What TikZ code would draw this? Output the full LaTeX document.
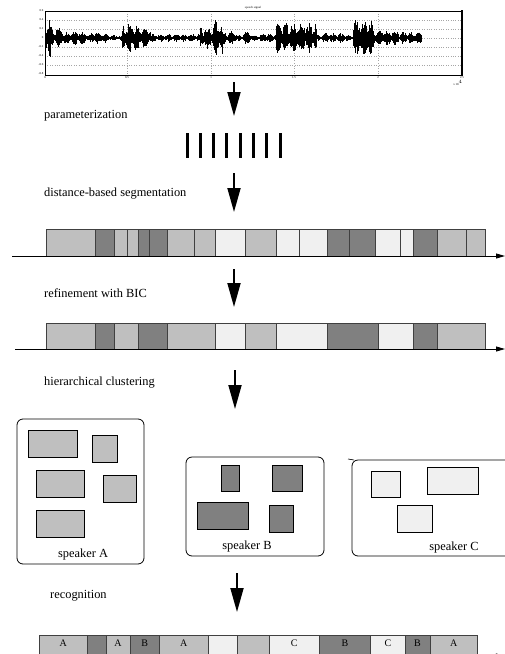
\documentclass[tikz,border=0pt]{standalone}
\usepackage{fontspec}
\setmainfont{Liberation Serif}
\usetikzlibrary{arrows.meta}

\definecolor{spkA}{gray}{0.75}
\definecolor{spkB}{gray}{0.5}
\definecolor{spkC}{gray}{0.94}

\tikzset{
  stage/.style={anchor=west, inner sep=0pt, font=\fontsize{12.4}{14}\selectfont},
  flow/.style={line width=1.8pt, -{Triangle[length=24pt,width=13pt]}},
  timeaxis/.style={line width=0.8pt, -{Triangle[length=9pt,width=5pt]}},
  seg/.style={draw=black!75, line width=0.7pt},
  model/.style={draw=black, line width=0.7pt},
  cluster/.style={draw=black, line width=0.8pt, rounded corners=6pt},
  ticklbl/.style={font=\fontsize{3}{3}\selectfont, inner sep=0.5pt},
  seglbl/.style={font=\fontsize{10}{10}\selectfont, inner sep=0pt},
}

\begin{document}
\begin{tikzpicture}[x=1pt, y=-1pt]
\useasboundingbox (0,0) rectangle (505,654);
\clip (0,0) rectangle (505,654);

% signal plot
\foreach \y in {20,29,38,47,56,65} \draw [gray!70, dotted, line width=0.4pt] (45,\y) -- (462,\y);
\foreach \x in {127,211,294,378} \draw [gray!70, dotted, line width=0.6pt] (\x,11) -- (\x,75);
\draw [line width=0.5pt] (45,11) rectangle (462,75);
\draw [line width=1.5pt] (462,10) -- (462,75);
\node [ticklbl] (sigTitle) at (253,8) {speech signal};
\foreach \y/\t in {11/0.6,20/0.4,29/0.2,38/0,47/-0.2,56/-0.4,65/-0.6,74/-0.8}
  \node [ticklbl, anchor=east] at (44,\y) {\t};
\foreach \x/\t in {45/0,127/0.5,211/1,294/1.5,378/2,462/2.5}
  \node [ticklbl, anchor=north] at (\x,76) {\t};
\node [ticklbl, anchor=north] (sigUnit) at (458,80) {x 10$^4$};

\pgfmathsetseed{11}
\draw [line width=0.8pt] (45,38) -- (421,38);
\foreach \a/\b/\h in {45/50/24, 50/62/11, 62/86/7, 86/90/3, 90/106/6, 106/122/3,
  122/136/15, 136/150/11, 150/200/4, 200/214/12, 214/222/18, 222/236/7, 236/243/3,
  243/251/7, 251/260/3, 260/276/5, 276/316/16, 316/322/3, 322/346/5, 346/353/3,
  353/373/19, 373/398/8, 398/421/6}
{
  \pgfmathsetmacro\nx{\a+0.5}
  \foreach \x in {\a,\nx,...,\b} {
    \pgfmathsetmacro\env{\h*(0.3+0.7*abs(sin(\x*23)))}
    \pgfmathsetmacro\up{\env*(0.35+0.65*rnd)}
    \pgfmathsetmacro\dn{\env*(0.35+0.65*rnd)}
    \draw [line width=0.6pt] (\x,{38-\up}) -- (\x,{38+\dn});
  }
}

% parameterization
\coordinate (a1s) at (234,82); \coordinate (a1e) at (234,116);
\draw [flow] (a1s) -- (a1e);
\node [stage] (lblParam) at (44,116) {parameterization};
\foreach \i in {0,...,7} \draw [line width=3pt] ({187+13.3*\i},133) -- ({187+13.3*\i},158);

% distance-based segmentation
\coordinate (a2s) at (234,173); \coordinate (a2e) at (234,212);
\draw [flow] (a2s) -- (a2e);
\node [stage] (lblDist) at (44,194) {distance-based segmentation};
\foreach \l/\r/\c in {46.7/95.7/spkA, 95.7/114/spkB, 114/127.3/spkA, 127.3/138/spkA,
  138/149/spkB, 149/167.7/spkB, 167.7/194/spkA, 194/215.7/spkA, 215.7/245/spkC,
  245/276.7/spkA, 276.7/299/spkC, 299/327.3/spkC, 327.3/349/spkB, 349/375.7/spkB,
  375.7/400/spkC, 400/413.3/spkC, 413.3/437.7/spkB, 437.7/466.7/spkA, 466.7/485/spkA}
  \draw [seg, fill=\c] (\l,229) rectangle (\r,256);
\coordinate (t1s) at (12,256); \coordinate (t1e) at (505,256);
\draw [timeaxis] (t1s) -- (t1e);

% refinement with BIC
\coordinate (a3s) at (234,269); \coordinate (a3e) at (234,307);
\draw [flow] (a3s) -- (a3e);
\node [stage] (lblBIC) at (44,293) {refinement with BIC};
\foreach \l/\r/\c in {46.7/95.7/spkA, 95.7/114/spkB, 114/138/spkA, 138/167.7/spkB,
  167.7/215.7/spkA, 215.7/245/spkC, 245/276.7/spkA, 276.7/327.3/spkC,
  327.3/378.3/spkB, 378.3/413.3/spkC, 413.3/437.7/spkB, 437.7/485/spkA}
  \draw [seg, fill=\c] (\l,323) rectangle (\r,349);
\coordinate (t2s) at (15,349); \coordinate (t2e) at (505,349);
\draw [timeaxis] (t2s) -- (t2e);

% hierarchical clustering
\coordinate (a4s) at (235,370); \coordinate (a4e) at (235,409);
\draw [flow] (a4s) -- (a4e);
\node [stage] (lblClust) at (44,383) {hierarchical clustering};

\draw [cluster] (17,419) rectangle (144,564);
\foreach \l/\t/\r/\b in {28/430/77/457, 92/435/117/462, 36/470/84/497, 103/475/136/502, 36/510/84/537}
  \draw [model, fill=spkA] (\l,\t) rectangle (\r,\b);
\node [stage, anchor=center] (spkAlbl) at (83,555) {speaker A};

\draw [cluster] (186,457) rectangle (324,556);
\foreach \l/\t/\r/\b in {221/465/239/491, 272/465/302/491, 197/502/248/529, 269/505/293/532}
  \draw [model, fill=spkB] (\l,\t) rectangle (\r,\b);
\node [stage, anchor=center] (spkBlbl) at (247,547) {speaker B};

\draw [cluster] (352,460) rectangle (530,556);
\draw [line width=0.6pt] (348,459) -- (354,460);
\foreach \l/\t/\r/\b in {371/471/400/497, 427/467/478/494, 397/505/432/532}
  \draw [model, fill=spkC] (\l,\t) rectangle (\r,\b);
\node [stage, anchor=center] (spkClbl) at (454,548) {speaker C};

% recognition
\coordinate (a5s) at (237,573); \coordinate (a5e) at (237,612);
\draw [flow] (a5s) -- (a5e);
\node [stage] (lblRec) at (50,596) {recognition};
\foreach \l/\r/\c/\t in {39/87.3/spkA/A, 87.3/106/spkB/, 106/130/spkA/A, 130/159.3/spkB/B,
  159.3/208.3/spkA/A, 208.3/237.3/spkC/, 237.3/269.3/spkA/, 269.3/319.3/spkC/C,
  319.3/370.7/spkB/B, 370.7/405/spkC/C, 405/430/spkB/B, 430/477.7/spkA/A}
  \draw [seg, fill=\c] (\l,635) rectangle (\r,658) node [seglbl] at ({(\l+\r)/2},643) {\t};
\coordinate (t3s) at (15,658); \coordinate (t3e) at (505,656);
\draw [timeaxis] (t3s) -- (t3e);

\end{tikzpicture}
\end{document}
